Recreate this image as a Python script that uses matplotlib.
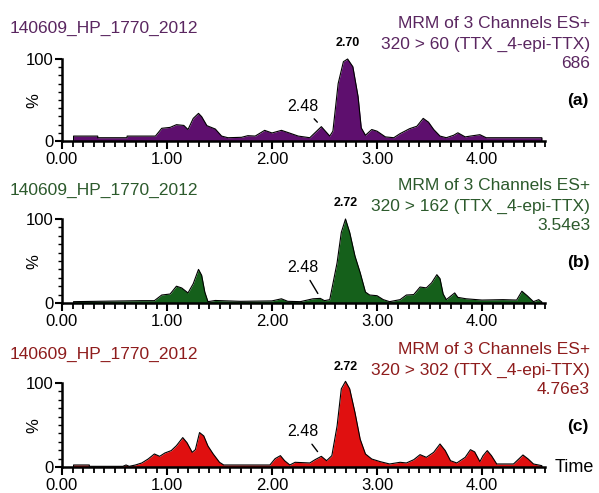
import numpy as np
import matplotlib.pyplot as plt
from matplotlib.ticker import MultipleLocator, FixedLocator, FormatStrFormatter

plt.rcParams['font.family'] = ['Liberation Sans', 'DejaVu Sans']

# sample name and channel info
sample = '140609_HP_1770_2012'
channels = ['320 > 60 (TTX _4-epi-TTX)', '320 > 162 (TTX _4-epi-TTX)', '320 > 302 (TTX _4-epi-TTX)']
intensities = ['686', '3.54e3', '4.76e3']
panel_tags = ['(a)', '(b)', '(c)']
apex_labels = ['2.70', '2.72', '2.72']
apex_t = [2.72, 2.70, 2.70]
minor_label = '2.48'

# retention time (min) / relative intensity (%)
t_a = [0.11, 0.11, 0.34, 0.34, 0.62, 0.62, 0.89, 0.95, 1.03, 1.09, 1.16, 1.20, 1.25, 1.30,
       1.33, 1.38, 1.46, 1.52, 1.58, 1.71, 1.77, 1.84, 1.93, 2.00, 2.09, 2.16, 2.25, 2.36,
       2.47, 2.55, 2.58, 2.63, 2.68, 2.72, 2.77, 2.82, 2.85, 2.89, 2.95, 3.00, 3.08, 3.16,
       3.22, 3.31, 3.38, 3.44, 3.49, 3.54, 3.60, 3.66, 3.73, 3.77, 3.84, 3.89, 3.98, 4.04,
       4.30, 4.57, 4.57]
pct_a = [0, 6, 6, 4, 4, 6, 6, 15.5, 16.6, 19.9, 19, 14, 27.6, 33.7,
         29.7, 18.7, 14.6, 6, 4, 4.5, 6.5, 6, 13, 9.8, 13, 10, 6, 4,
         17.5, 6, 12, 70, 96.7, 100, 90.6, 54, 16, 7, 14, 12, 5, 4,
         9, 15, 18, 27.6, 23, 14, 6, 4, 7, 10, 5, 6, 7.7, 4,
         4, 4, 0]

t_b = [0.11, 0.11, 0.76, 0.88, 0.95, 1.03, 1.09, 1.14, 1.20, 1.25, 1.30, 1.33, 1.36, 1.39,
       1.46, 1.70, 2.00, 2.09, 2.15, 2.27, 2.39, 2.46, 2.50, 2.55, 2.62, 2.66, 2.70, 2.74,
       2.79, 2.84, 2.89, 2.93, 3.00, 3.06, 3.12, 3.22, 3.28, 3.35, 3.41, 3.47, 3.52, 3.57,
       3.60, 3.63, 3.66, 3.74, 3.77, 3.85, 4.00, 4.20, 4.33, 4.38, 4.43, 4.49, 4.54, 4.57,
       4.57]
pct_b = [0, 1.6, 2.8, 2.8, 9.5, 10.7, 20, 17.9, 12, 23, 40, 33, 13, 1.6,
         3, 2, 2.5, 5, 2, 1.6, 5, 5.5, 2.8, 4, 48, 84, 100, 84,
         56, 36, 13, 9.5, 8.7, 4, 1.6, 4, 9.5, 10, 19, 18, 24, 33.7,
         29, 10.7, 4, 12, 6.7, 5, 3.5, 4, 3.5, 14, 8.7, 1.6, 4, 1.2,
         0]

t_c = [0.11, 0.11, 0.26, 0.26, 0.58, 0.61, 0.64, 0.70, 0.76, 0.82, 0.88, 0.93, 0.98, 1.04,
       1.09, 1.15, 1.19, 1.24, 1.27, 1.31, 1.35, 1.39, 1.44, 1.50, 1.54, 1.98, 2.03, 2.08,
       2.12, 2.17, 2.22, 2.36, 2.41, 2.47, 2.52, 2.57, 2.62, 2.66, 2.70, 2.74, 2.79, 2.84,
       2.89, 2.95, 3.03, 3.12, 3.22, 3.28, 3.35, 3.41, 3.47, 3.54, 3.60, 3.65, 3.70, 3.76,
       3.84, 3.89, 3.93, 3.98, 4.01, 4.05, 4.09, 4.14, 4.30, 4.35, 4.39, 4.44, 4.49, 4.57,
       4.57]
pct_c = [0, 2.4, 2.4, 0.8, 0.8, 2.4, 0.8, 2.4, 4.8, 9.5, 15.5, 12.7, 16.7, 19.5,
         25.4, 35, 29, 17.5, 20.6, 41, 37, 25, 15.5, 5.6, 2.4, 2.4, 10, 13.5,
         7.5, 2.4, 5.6, 4.8, 8.7, 12.7, 7.5, 13.5, 49, 93, 102, 93, 65, 33,
         15.5, 9.5, 6.4, 3.6, 5.6, 4.8, 8.7, 14.7, 11.5, 17.5, 27.4, 19.5, 7.5, 4.8,
         11.5, 20.6, 18, 6.4, 13.5, 19.5, 13.5, 3.6, 3.6, 9.5, 14.3, 9.5, 3.6, 1.6,
         0]

minor_y = [17.5, 5.5, 12.7]

fills = ['#5e0f6e', '#15601b', '#e01010']
text_cols = ['#5a2660', '#2c5a2c', '#8e1c1c']
series = [(t_a, pct_a), (t_b, pct_b), (t_c, pct_c)]

W, H = 599, 493
fig = plt.figure(figsize=(W / 100, H / 100), dpi=100)

zero_px = [141, 303, 467]
scale_px = [0.82, 0.84, 0.84]
x0_px, x1_px = 62, 545
tmax = 4.6
ytop = 106

for i in range(3):
    z = zero_px[i]
    hpx = ytop * scale_px[i]
    ax = fig.add_axes([x0_px / W, (H - z) / H, (x1_px - x0_px) / W, hpx / H])
    t, p = series[i]
    ax.fill_between(t, p, 0, color=fills[i], lw=0)
    ax.plot(t, p, color='black', lw=0.8)
    ax.set_xlim(0, tmax)
    ax.set_ylim(0, ytop)
    ax.patch.set_alpha(0)
    for s in ['top', 'right']:
        ax.spines[s].set_visible(False)
    ax.spines['left'].set_bounds(0, 100)
    ax.spines['left'].set_linewidth(1.8)
    ax.spines['bottom'].set_linewidth(1.8)
    ax.xaxis.set_major_locator(MultipleLocator(1.0))
    ax.xaxis.set_minor_locator(MultipleLocator(0.1))
    ax.xaxis.set_major_formatter(FormatStrFormatter('%.2f'))
    ax.yaxis.set_major_locator(FixedLocator([0, 100]))
    ax.yaxis.set_minor_locator(FixedLocator(np.arange(10, 100, 10)))
    ax.tick_params(axis='x', which='major', length=6, width=1.5, labelsize=12, pad=2)
    ax.tick_params(axis='x', which='minor', length=4, width=1.3)
    ax.tick_params(axis='y', which='major', length=5, width=1.5, labelsize=12, pad=1)
    ax.tick_params(axis='y', which='minor', length=3, width=1.0)
    ax.set_ylabel('%', fontsize=12)
    ax.yaxis.set_label_coords(-0.043, 0.47)

    def fy(px):
        return 1 - px / H

    fig.text(10 / W, fy(z - 113), sample, color=text_cols[i], fontsize=12.5, va='center', ha='left')
    fig.text(590 / W, fy(z - 118), 'MRM of 3 Channels ES+', color=text_cols[i], fontsize=12.5,
             va='center', ha='right')
    fig.text(590 / W, fy(z - 97), channels[i], color=text_cols[i], fontsize=12.5,
             va='center', ha='right')
    fig.text(590 / W, fy(z - 77), intensities[i], color=text_cols[i], fontsize=12.5,
             va='center', ha='right')
    fig.text(578 / W, fy(z - 40), panel_tags[i], color='black', fontsize=12.5,
             fontweight='bold', va='center', ha='center')

    ax.annotate(apex_labels[i], xy=(apex_t[i], 100), xytext=(0, 7), textcoords='offset points',
                ha='center', va='bottom', fontsize=9, fontweight='bold', annotation_clip=False)
    ax.annotate(minor_label, xy=(2.45, minor_y[i] + 3), xytext=(2.29, 42),
                ha='center', va='center', fontsize=11.5,
                arrowprops=dict(arrowstyle='-', color='black', lw=1.0, shrinkA=2, shrinkB=2))

    if i == 2:
        fig.text(555 / W, fy(z), 'Time', fontsize=13, va='center', ha='left')

fig.savefig('out.png', dpi=100)
